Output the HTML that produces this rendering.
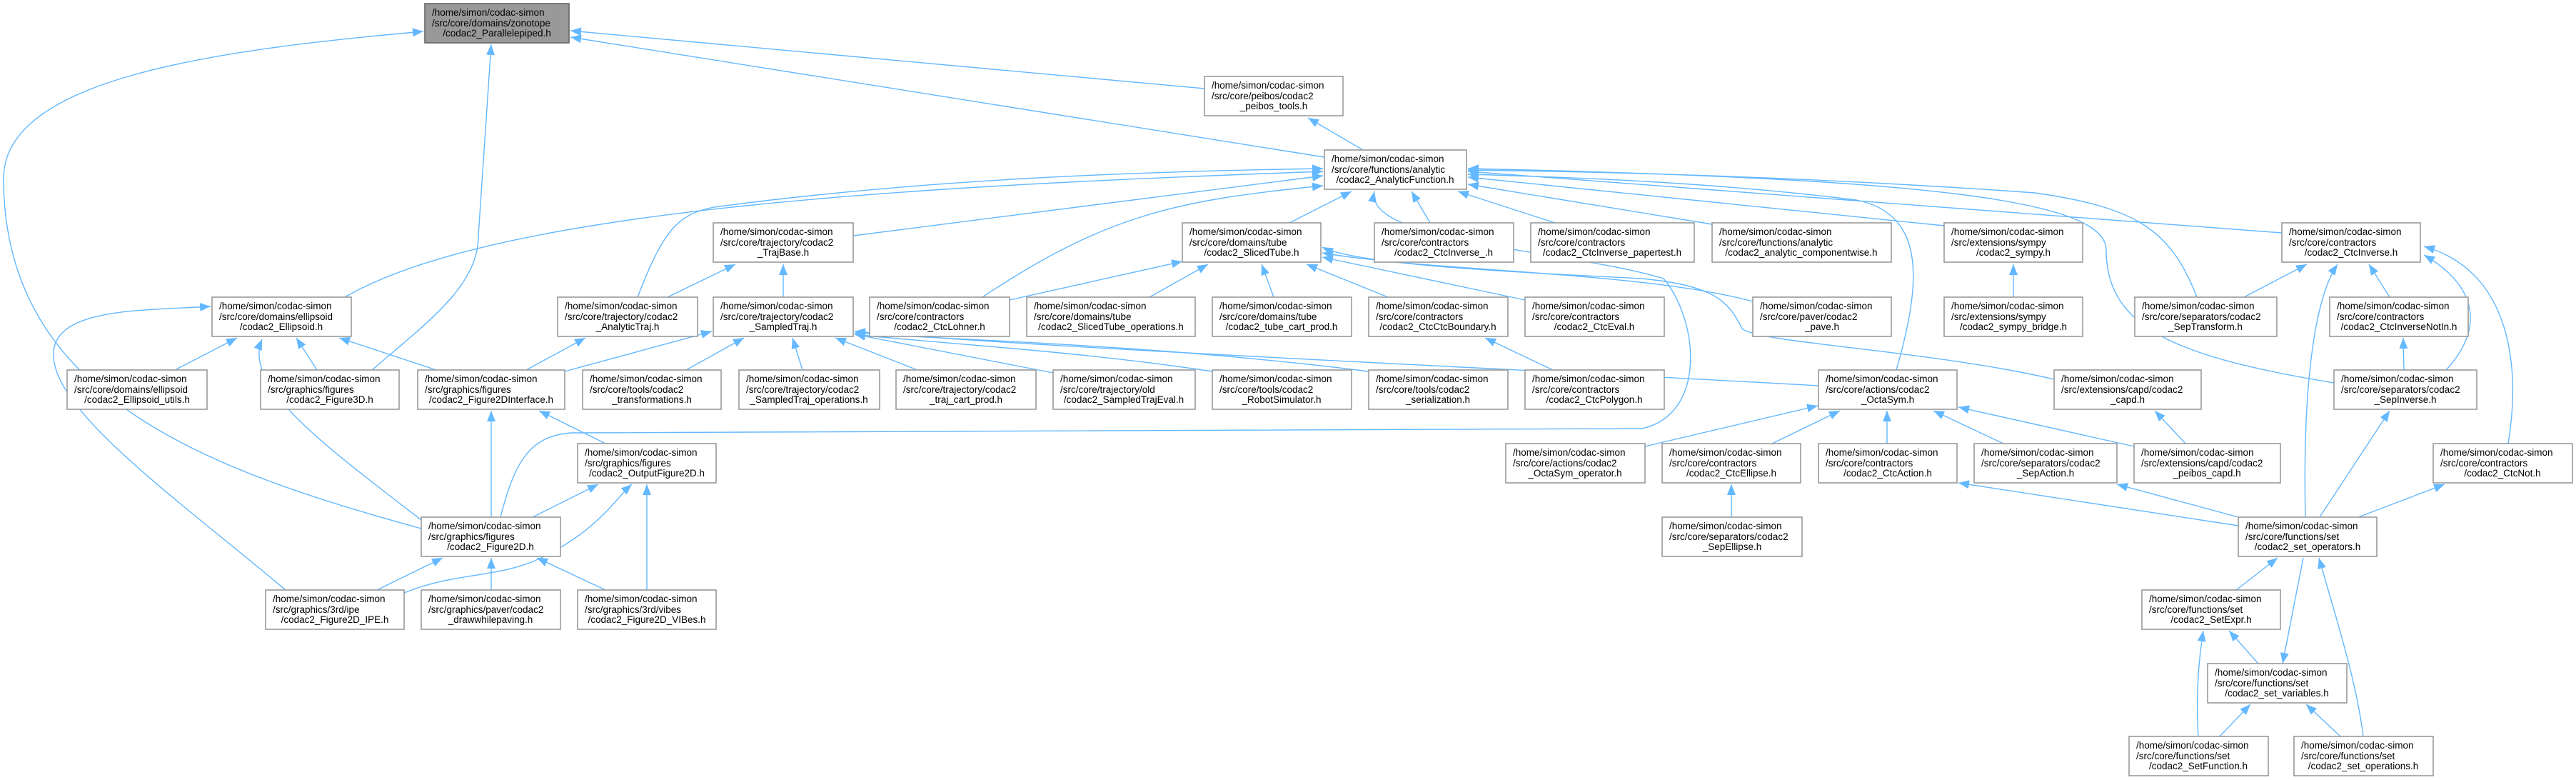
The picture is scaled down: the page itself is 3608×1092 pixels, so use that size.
<!DOCTYPE html>
<html><head><meta charset="utf-8"><style>
html,body{margin:0;padding:0;background:#fff;}
svg{display:block;}
text{font-family:"Liberation Sans",sans-serif;font-size:13.5px;fill:#000;}
.n rect{fill:#fff;stroke:#999;stroke-width:1.6;}
.f rect{fill:#999;stroke:#666;stroke-width:1.6;}
path.e{fill:none;stroke:#63b8ff;stroke-width:1.4;}
.c{text-anchor:middle;}
</style></head><body>
<svg width="3608" height="1092" viewBox="0 0 3608 1092" xmlns="http://www.w3.org/2000/svg">
<defs><marker id="a" markerUnits="userSpaceOnUse" markerWidth="16" markerHeight="12" refX="15" refY="6" orient="auto"><path d="M0,0 L15,6 L0,12 z" fill="#63b8ff"/></marker></defs>
<g marker-end="url(#a)">
<path class="e" d="M590,740 C300,660 5,560 5,250 C5,110 300,70 593,44"/>
<path class="e" d="M521,518 C600,450 670,400 670,330 L688,62"/>
<path class="e" d="M1687,124 L799,43"/>
<path class="e" d="M1855,220 L799,52"/>
<path class="e" d="M1909,210 L1832,165"/>
<path class="e" d="M483,416 C700,290 1300,260 1853,240"/>
<path class="e" d="M893,416 C930,320 950,300 1000,290 C1300,250 1600,240 1853,236"/>
<path class="e" d="M1195,330 L1853,246"/>
<path class="e" d="M1376,416 C1550,300 1650,280 1853,260"/>
<path class="e" d="M1806,312 L1893,268"/>
<path class="e" d="M701,724 C720,650 740,610 800,606 L2300,600 C2390,580 2380,450 2330,390 C2200,350 1910,340 1925,268"/>
<path class="e" d="M2003,312 L1977,268"/>
<path class="e" d="M2178,312 L2042,268"/>
<path class="e" d="M2398,314 L2056,258"/>
<path class="e" d="M2723,316 L2056,248"/>
<path class="e" d="M3196,326 L2056,240"/>
<path class="e" d="M2656,518 C2690,400 2700,300 2600,280 C2400,255 2200,248 2056,244"/>
<path class="e" d="M3077,416 C3040,320 2990,290 2850,270 C2500,245 2200,240 2056,238"/>
<path class="e" d="M3269,536 C3050,500 2950,460 2950,350 C2950,280 2700,250 2056,236"/>
<path class="e" d="M1414,420 L1656,366"/>
<path class="e" d="M1610,416 L1692,370"/>
<path class="e" d="M1784,416 L1767,370"/>
<path class="e" d="M1944,416 L1830,370"/>
<path class="e" d="M2136,420 L1852,360"/>
<path class="e" d="M2455,422 C2300,380 2000,380 1852,354"/>
<path class="e" d="M2877,531 C2700,490 2460,480 2440,460 C2420,420 2400,400 2300,390 C2100,380 1900,370 1852,346"/>
<path class="e" d="M935,416 L1030,370"/>
<path class="e" d="M1097,416 L1097,370"/>
<path class="e" d="M245,518 L332,473"/>
<path class="e" d="M444,518 L415,473"/>
<path class="e" d="M611,518 L475,473"/>
<path class="e" d="M590,728 C450,620 340,540 367,475"/>
<path class="e" d="M400,826 C250,700 80,580 75,500 C70,430 200,435 295,429"/>
<path class="e" d="M791,520 L997,464"/>
<path class="e" d="M961,518 L1042,473"/>
<path class="e" d="M1124,518 L1110,473"/>
<path class="e" d="M1285,518 L1170,473"/>
<path class="e" d="M1475,522 L1197,468"/>
<path class="e" d="M1698,520 C1500,490 1300,480 1197,468"/>
<path class="e" d="M1917,520 C1600,480 1300,475 1197,466"/>
<path class="e" d="M2547,540 C2200,520 1500,490 1197,464"/>
<path class="e" d="M737,518 L820,473"/>
<path class="e" d="M688,724 L688,575"/>
<path class="e" d="M848,621 L755,575"/>
<path class="e" d="M746,724 L838,678"/>
<path class="e" d="M566,830 C640,800 700,810 760,780 C840,740 860,700 885,678"/>
<path class="e" d="M906,826 L906,678"/>
<path class="e" d="M528,826 L620,781"/>
<path class="e" d="M688,826 L688,781"/>
<path class="e" d="M848,826 L752,781"/>
<path class="e" d="M2175,518 L2080,473"/>
<path class="e" d="M2820,416 L2820,370"/>
<path class="e" d="M3143,416 L3231,370"/>
<path class="e" d="M3347,416 L3318,370"/>
<path class="e" d="M3426,518 C3480,460 3470,400 3395,357"/>
<path class="e" d="M3229,724 C3225,550 3240,420 3274,370"/>
<path class="e" d="M3513,621 C3530,520 3520,380 3395,345"/>
<path class="e" d="M3367,518 L3366,473"/>
<path class="e" d="M3249,724 L3347,575"/>
<path class="e" d="M2304,625 L2546,568"/>
<path class="e" d="M2482,621 L2577,575"/>
<path class="e" d="M2643,621 L2643,575"/>
<path class="e" d="M2806,621 L2708,575"/>
<path class="e" d="M2989,625 L2743,570"/>
<path class="e" d="M3061,621 L3018,575"/>
<path class="e" d="M2425,724 L2425,678"/>
<path class="e" d="M3135,736 L2743,676"/>
<path class="e" d="M3135,724 L2965,678"/>
<path class="e" d="M3303,724 L3424,678"/>
<path class="e" d="M3132,826 L3190,781"/>
<path class="e" d="M3226,781 L3197,929"/>
<path class="e" d="M3310,1031 C3300,950 3270,860 3248,781"/>
<path class="e" d="M3163,929 L3122,883"/>
<path class="e" d="M3079,1031 C3075,970 3080,920 3086,883"/>
<path class="e" d="M3109,1031 L3152,986"/>
<path class="e" d="M3278,1031 L3230,986"/>
</g>

<g class="f"><rect x="595" y="5" width="202" height="55"/><text x="605" y="22">/home/simon/codac-simon</text><text x="605" y="37">/src/core/domains/zonotope</text><text class="c" x="696" y="51">/codac2_Parallelepiped.h</text></g>

<g class="n"><rect x="1687" y="107" width="194" height="55"/><text x="1697" y="124">/home/simon/codac-simon</text><text x="1697" y="139">/src/core/peibos/codac2</text><text class="c" x="1784" y="153">_peibos_tools.h</text></g>
<g class="n"><rect x="1855" y="210" width="199" height="55"/><text x="1865" y="227">/home/simon/codac-simon</text><text x="1865" y="242">/src/core/functions/analytic</text><text class="c" x="1954" y="256">/codac2_AnalyticFunction.h</text></g>

<g class="n"><rect x="999" y="312" width="196" height="55"/><text x="1009" y="329">/home/simon/codac-simon</text><text x="1009" y="344">/src/core/trajectory/codac2</text><text class="c" x="1097" y="358">_TrajBase.h</text></g>
<g class="n"><rect x="1656" y="312" width="194" height="55"/><text x="1666" y="329">/home/simon/codac-simon</text><text x="1666" y="344">/src/core/domains/tube</text><text class="c" x="1753" y="358">/codac2_SlicedTube.h</text></g>
<g class="n"><rect x="1925" y="312" width="195" height="55"/><text x="1935" y="329">/home/simon/codac-simon</text><text x="1935" y="344">/src/core/contractors</text><text class="c" x="2022" y="358">/codac2_CtcInverse_.h</text></g>
<g class="n"><rect x="2144" y="312" width="229" height="55"/><text x="2154" y="329">/home/simon/codac-simon</text><text x="2154" y="344">/src/core/contractors</text><text class="c" x="2258" y="358">/codac2_CtcInverse_papertest.h</text></g>
<g class="n"><rect x="2398" y="312" width="251" height="55"/><text x="2408" y="329">/home/simon/codac-simon</text><text x="2408" y="344">/src/core/functions/analytic</text><text class="c" x="2523" y="358">/codac2_analytic_componentwise.h</text></g>
<g class="n"><rect x="2723" y="312" width="194" height="55"/><text x="2733" y="329">/home/simon/codac-simon</text><text x="2733" y="344">/src/extensions/sympy</text><text class="c" x="2820" y="358">/codac2_sympy.h</text></g>
<g class="n"><rect x="3196" y="312" width="194" height="55"/><text x="3206" y="329">/home/simon/codac-simon</text><text x="3206" y="344">/src/core/contractors</text><text class="c" x="3293" y="358">/codac2_CtcInverse.h</text></g>

<g class="n"><rect x="297" y="416" width="195" height="55"/><text x="307" y="433">/home/simon/codac-simon</text><text x="307" y="448">/src/core/domains/ellipsoid</text><text class="c" x="394" y="462">/codac2_Ellipsoid.h</text></g>
<g class="n"><rect x="781" y="416" width="196" height="55"/><text x="791" y="433">/home/simon/codac-simon</text><text x="791" y="448">/src/core/trajectory/codac2</text><text class="c" x="879" y="462">_AnalyticTraj.h</text></g>
<g class="n"><rect x="999" y="416" width="196" height="55"/><text x="1009" y="433">/home/simon/codac-simon</text><text x="1009" y="448">/src/core/trajectory/codac2</text><text class="c" x="1097" y="462">_SampledTraj.h</text></g>
<g class="n"><rect x="1218" y="416" width="196" height="55"/><text x="1228" y="433">/home/simon/codac-simon</text><text x="1228" y="448">/src/core/contractors</text><text class="c" x="1316" y="462">/codac2_CtcLohner.h</text></g>
<g class="n"><rect x="1438" y="416" width="236" height="55"/><text x="1448" y="433">/home/simon/codac-simon</text><text x="1448" y="448">/src/core/domains/tube</text><text class="c" x="1556" y="462">/codac2_SlicedTube_operations.h</text></g>
<g class="n"><rect x="1698" y="416" width="195" height="55"/><text x="1708" y="433">/home/simon/codac-simon</text><text x="1708" y="448">/src/core/domains/tube</text><text class="c" x="1795" y="462">/codac2_tube_cart_prod.h</text></g>
<g class="n"><rect x="1917" y="416" width="195" height="55"/><text x="1927" y="433">/home/simon/codac-simon</text><text x="1927" y="448">/src/core/contractors</text><text class="c" x="2014" y="462">/codac2_CtcCtcBoundary.h</text></g>
<g class="n"><rect x="2136" y="416" width="195" height="55"/><text x="2146" y="433">/home/simon/codac-simon</text><text x="2146" y="448">/src/core/contractors</text><text class="c" x="2233" y="462">/codac2_CtcEval.h</text></g>
<g class="n"><rect x="2455" y="416" width="194" height="55"/><text x="2465" y="433">/home/simon/codac-simon</text><text x="2465" y="448">/src/core/paver/codac2</text><text class="c" x="2552" y="462">_pave.h</text></g>
<g class="n"><rect x="2723" y="416" width="194" height="55"/><text x="2733" y="433">/home/simon/codac-simon</text><text x="2733" y="448">/src/extensions/sympy</text><text class="c" x="2820" y="462">/codac2_sympy_bridge.h</text></g>
<g class="n"><rect x="2990" y="416" width="199" height="55"/><text x="3000" y="433">/home/simon/codac-simon</text><text x="3000" y="448">/src/core/separators/codac2</text><text class="c" x="3089" y="462">_SepTransform.h</text></g>
<g class="n"><rect x="3263" y="416" width="194" height="55"/><text x="3273" y="433">/home/simon/codac-simon</text><text x="3273" y="448">/src/core/contractors</text><text class="c" x="3360" y="462">/codac2_CtcInverseNotIn.h</text></g>

<g class="n"><rect x="94" y="518" width="196" height="55"/><text x="104" y="535">/home/simon/codac-simon</text><text x="104" y="550">/src/core/domains/ellipsoid</text><text class="c" x="192" y="564">/codac2_Ellipsoid_utils.h</text></g>
<g class="n"><rect x="365" y="518" width="194" height="55"/><text x="375" y="535">/home/simon/codac-simon</text><text x="375" y="550">/src/graphics/figures</text><text class="c" x="462" y="564">/codac2_Figure3D.h</text></g>
<g class="n"><rect x="585" y="518" width="206" height="55"/><text x="595" y="535">/home/simon/codac-simon</text><text x="595" y="550">/src/graphics/figures</text><text class="c" x="688" y="564">/codac2_Figure2DInterface.h</text></g>
<g class="n"><rect x="816" y="518" width="194" height="55"/><text x="826" y="535">/home/simon/codac-simon</text><text x="826" y="550">/src/core/tools/codac2</text><text class="c" x="913" y="564">_transformations.h</text></g>
<g class="n"><rect x="1035" y="518" width="197" height="55"/><text x="1045" y="535">/home/simon/codac-simon</text><text x="1045" y="550">/src/core/trajectory/codac2</text><text class="c" x="1133" y="564">_SampledTraj_operations.h</text></g>
<g class="n"><rect x="1255" y="518" width="196" height="55"/><text x="1265" y="535">/home/simon/codac-simon</text><text x="1265" y="550">/src/core/trajectory/codac2</text><text class="c" x="1353" y="564">_traj_cart_prod.h</text></g>
<g class="n"><rect x="1475" y="518" width="199" height="55"/><text x="1485" y="535">/home/simon/codac-simon</text><text x="1485" y="550">/src/core/trajectory/old</text><text class="c" x="1574" y="564">/codac2_SampledTrajEval.h</text></g>
<g class="n"><rect x="1698" y="518" width="195" height="55"/><text x="1708" y="535">/home/simon/codac-simon</text><text x="1708" y="550">/src/core/tools/codac2</text><text class="c" x="1795" y="564">_RobotSimulator.h</text></g>
<g class="n"><rect x="1917" y="518" width="195" height="55"/><text x="1927" y="535">/home/simon/codac-simon</text><text x="1927" y="550">/src/core/tools/codac2</text><text class="c" x="2014" y="564">_serialization.h</text></g>
<g class="n"><rect x="2136" y="518" width="195" height="55"/><text x="2146" y="535">/home/simon/codac-simon</text><text x="2146" y="550">/src/core/contractors</text><text class="c" x="2233" y="564">/codac2_CtcPolygon.h</text></g>
<g class="n"><rect x="2547" y="518" width="194" height="55"/><text x="2557" y="535">/home/simon/codac-simon</text><text x="2557" y="550">/src/core/actions/codac2</text><text class="c" x="2644" y="564">_OctaSym.h</text></g>
<g class="n"><rect x="2877" y="518" width="206" height="55"/><text x="2887" y="535">/home/simon/codac-simon</text><text x="2887" y="550">/src/extensions/capd/codac2</text><text class="c" x="2980" y="564">_capd.h</text></g>
<g class="n"><rect x="3269" y="518" width="200" height="55"/><text x="3279" y="535">/home/simon/codac-simon</text><text x="3279" y="550">/src/core/separators/codac2</text><text class="c" x="3369" y="564">_SepInverse.h</text></g>

<g class="n"><rect x="809" y="621" width="194" height="55"/><text x="819" y="638">/home/simon/codac-simon</text><text x="819" y="653">/src/graphics/figures</text><text class="c" x="906" y="667">/codac2_OutputFigure2D.h</text></g>
<g class="n"><rect x="2109" y="621" width="195" height="55"/><text x="2119" y="638">/home/simon/codac-simon</text><text x="2119" y="653">/src/core/actions/codac2</text><text class="c" x="2206" y="667">_OctaSym_operator.h</text></g>
<g class="n"><rect x="2328" y="621" width="194" height="55"/><text x="2338" y="638">/home/simon/codac-simon</text><text x="2338" y="653">/src/core/contractors</text><text class="c" x="2425" y="667">/codac2_CtcEllipse.h</text></g>
<g class="n"><rect x="2547" y="621" width="194" height="55"/><text x="2557" y="638">/home/simon/codac-simon</text><text x="2557" y="653">/src/core/contractors</text><text class="c" x="2644" y="667">/codac2_CtcAction.h</text></g>
<g class="n"><rect x="2765" y="621" width="200" height="55"/><text x="2775" y="638">/home/simon/codac-simon</text><text x="2775" y="653">/src/core/separators/codac2</text><text class="c" x="2865" y="667">_SepAction.h</text></g>
<g class="n"><rect x="2989" y="621" width="205" height="55"/><text x="2999" y="638">/home/simon/codac-simon</text><text x="2999" y="653">/src/extensions/capd/codac2</text><text class="c" x="3091" y="667">_peibos_capd.h</text></g>
<g class="n"><rect x="3408" y="621" width="195" height="55"/><text x="3418" y="638">/home/simon/codac-simon</text><text x="3418" y="653">/src/core/contractors</text><text class="c" x="3505" y="667">/codac2_CtcNot.h</text></g>

<g class="n"><rect x="590" y="724" width="195" height="55"/><text x="600" y="741">/home/simon/codac-simon</text><text x="600" y="756">/src/graphics/figures</text><text class="c" x="687" y="770">/codac2_Figure2D.h</text></g>
<g class="n"><rect x="2328" y="724" width="196" height="55"/><text x="2338" y="741">/home/simon/codac-simon</text><text x="2338" y="756">/src/core/separators/codac2</text><text class="c" x="2426" y="770">_SepEllipse.h</text></g>
<g class="n"><rect x="3135" y="724" width="194" height="55"/><text x="3145" y="741">/home/simon/codac-simon</text><text x="3145" y="756">/src/core/functions/set</text><text class="c" x="3232" y="770">/codac2_set_operators.h</text></g>

<g class="n"><rect x="372" y="826" width="194" height="55"/><text x="382" y="843">/home/simon/codac-simon</text><text x="382" y="858">/src/graphics/3rd/ipe</text><text class="c" x="469" y="872">/codac2_Figure2D_IPE.h</text></g>
<g class="n"><rect x="590" y="826" width="195" height="55"/><text x="600" y="843">/home/simon/codac-simon</text><text x="600" y="858">/src/graphics/paver/codac2</text><text class="c" x="687" y="872">_drawwhilepaving.h</text></g>
<g class="n"><rect x="809" y="826" width="194" height="55"/><text x="819" y="843">/home/simon/codac-simon</text><text x="819" y="858">/src/graphics/3rd/vibes</text><text class="c" x="906" y="872">/codac2_Figure2D_VIBes.h</text></g>
<g class="n"><rect x="3000" y="826" width="194" height="55"/><text x="3010" y="843">/home/simon/codac-simon</text><text x="3010" y="858">/src/core/functions/set</text><text class="c" x="3097" y="872">/codac2_SetExpr.h</text></g>

<g class="n"><rect x="3092" y="929" width="195" height="55"/><text x="3102" y="946">/home/simon/codac-simon</text><text x="3102" y="961">/src/core/functions/set</text><text class="c" x="3189" y="975">/codac2_set_variables.h</text></g>

<g class="n"><rect x="2982" y="1031" width="195" height="55"/><text x="2992" y="1048">/home/simon/codac-simon</text><text x="2992" y="1063">/src/core/functions/set</text><text class="c" x="3079" y="1077">/codac2_SetFunction.h</text></g>
<g class="n"><rect x="3213" y="1031" width="195" height="55"/><text x="3223" y="1048">/home/simon/codac-simon</text><text x="3223" y="1063">/src/core/functions/set</text><text class="c" x="3310" y="1077">/codac2_set_operations.h</text></g>
</svg>
</body></html>
